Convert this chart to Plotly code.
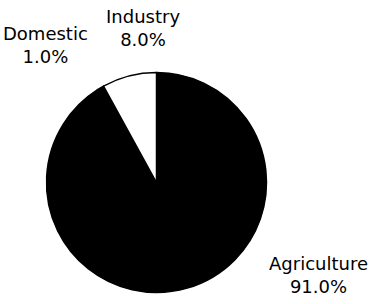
import plotly.graph_objects as go

labels = ["Agriculture", "Domestic", "Industry"]
values = [91.0, 1.0, 8.0]
colors = ["black", "black", "white"]

# label anchor positions (paper coords) for the annotation text
label_x = [0.848, 0.122, 0.381]
label_y = [0.094, 0.852, 0.909]

fig = go.Figure(go.Pie(
    labels=labels,
    values=values,
    sort=False,
    direction="clockwise",
    rotation=0,
    marker=dict(colors=colors, line=dict(color="black", width=1.5)),
    textinfo="none",
    hoverinfo="label+percent",
    showlegend=False,
    domain=dict(x=[0.124, 0.7107], y=[0.0378, 0.7615]),
))

for lab, val, x, y in zip(labels, values, label_x, label_y):
    fig.add_annotation(
        x=x, y=y, xref="paper", yref="paper",
        text=f"{lab}<br>{val:.1f}%",
        showarrow=False,
        font=dict(family="DejaVu Sans", size=18, color="black"),
        xanchor="center", yanchor="middle", align="center",
    )

fig.update_layout(
    width=375, height=304,
    margin=dict(l=0, r=0, t=0, b=0),
    paper_bgcolor="white", plot_bgcolor="white",
)

fig.write_html("out.html")
